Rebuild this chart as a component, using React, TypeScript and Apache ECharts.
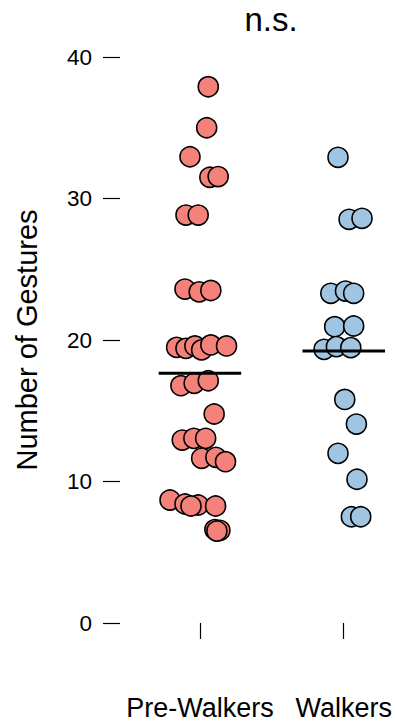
import React, { useEffect, useRef } from "react";
import * as echarts from "echarts";

const categories = ["Pre-Walkers", "Walkers"];
const yTicks = [0, 10, 20, 30, 40];

// Pre-Walkers: values and horizontal jitter (category units)
const preValues = [37.9, 35.0, 32.95, 31.5, 31.55, 28.83, 28.83, 23.6, 23.4, 23.5,
  19.48, 19.41, 19.58, 19.3, 19.65, 19.58, 16.77, 16.94, 17.12, 14.77,
  12.93, 13.05, 13.05, 11.64, 11.71, 11.4, 8.69, 8.41, 8.34, 8.27, 8.27, 6.6, 6.55, 6.5];
const preJitter = [0.058, 0.047, -0.069, 0.069, 0.127, -0.097, -0.012, -0.104, -0.005, 0.076,
  -0.162, -0.097, -0.035, 0.012, 0.076, 0.185, -0.132, -0.040, 0.058, 0.099,
  -0.123, -0.042, 0.040, 0.012, 0.111, 0.178, -0.208, -0.104, -0.012, -0.062, 0.109, 0.104, 0.139, 0.118];

// Walkers
const walkValues = [32.91, 28.53, 28.6, 23.3, 23.46, 23.3, 20.94, 20.99, 19.34, 19.53,
  19.46, 15.8, 14.06, 11.99, 10.16, 7.51, 7.51];
const walkJitter = [-0.040, 0.037, 0.127, -0.090, 0.012, 0.069, -0.063, 0.069, -0.137, -0.051,
  0.049, 0.007, 0.088, -0.040, 0.092, 0.053, 0.118];

const centralValues = [17.65, 19.22];
const sigLabel = "n.s.";
const yTitle = "Number of Gestures";

const FONT = "'Liberation Sans', Arial, Helvetica, sans-serif";

export default function App() {
  const ref = useRef<HTMLDivElement>(null);
  useEffect(() => {
    document.body.style.margin = "0";
    if (!ref.current) return;
    const chart = echarts.init(ref.current, null, { renderer: "svg" });
    const half = 0.287;
    const lineFor = (i: number) => [
      [i + 1 - half, centralValues[i]],
      [i + 1 + half, centralValues[i]],
    ];
    const pointStyle = (color: string) => ({
      color,
      borderColor: "#000",
      borderWidth: 1.6,
      opacity: 1,
    });
    chart.setOption({
      animation: false,
      backgroundColor: "#fff",
      grid: { left: 128, right: 7.8, top: 57, bottom: 100 },
      xAxis: {
        type: "value",
        min: 0.5,
        max: 2.3,
        offset: 33,
        axisLine: { show: false },
        splitLine: { show: false },
        axisTick: {
          show: true,
          customValues: [1, 2],
          length: 16,
          lineStyle: { color: "#000", width: 1.2 },
        },
        axisLabel: {
          customValues: [1, 2],
          formatter: (v: number) => categories[Math.round(v) - 1] ?? "",
          fontFamily: FONT,
          fontSize: 27,
          color: "#000",
          margin: 38,
        },
      },
      yAxis: {
        type: "value",
        min: 0,
        max: 40,
        interval: 10,
        offset: 8,
        axisLine: { show: false },
        splitLine: { show: false },
        axisTick: { show: true, length: 17, lineStyle: { color: "#000", width: 1.2 } },
        axisLabel: {
          fontFamily: FONT,
          fontSize: 22.5,
          color: "#000",
          margin: 28,
          formatter: (v: number) => (yTicks.includes(v) ? String(v) : ""),
        },
      },
      graphic: [
        {
          type: "text",
          x: 271,
          y: 19,
          style: {
            text: sigLabel,
            fontFamily: FONT,
            fontSize: 33,
            fill: "#000",
            align: "center",
            verticalAlign: "middle",
          },
        },
        {
          type: "text",
          x: 27,
          y: 340,
          rotation: Math.PI / 2,
          style: {
            text: yTitle,
            fontFamily: FONT,
            fontSize: 29,
            fill: "#000",
            align: "center",
            verticalAlign: "middle",
          },
        },
      ],
      series: [
        {
          type: "scatter",
          symbol: "circle",
          symbolSize: 20,
          data: preValues.map((v, i) => [1 + preJitter[i], v]),
          itemStyle: pointStyle("#F4827A"),
          z: 2,
        },
        {
          type: "scatter",
          symbol: "circle",
          symbolSize: 20,
          data: walkValues.map((v, i) => [2 + walkJitter[i], v]),
          itemStyle: pointStyle("#9FC5E3"),
          z: 2,
        },
        {
          type: "line",
          data: lineFor(0),
          symbol: "none",
          lineStyle: { color: "#000", width: 3 },
          z: 5,
        },
        {
          type: "line",
          data: lineFor(1),
          symbol: "none",
          lineStyle: { color: "#000", width: 3 },
          z: 5,
        },
      ],
    });
    return () => chart.dispose();
  }, []);
  return <div ref={ref} style={{ width: 395, height: 723 }} />;
}
